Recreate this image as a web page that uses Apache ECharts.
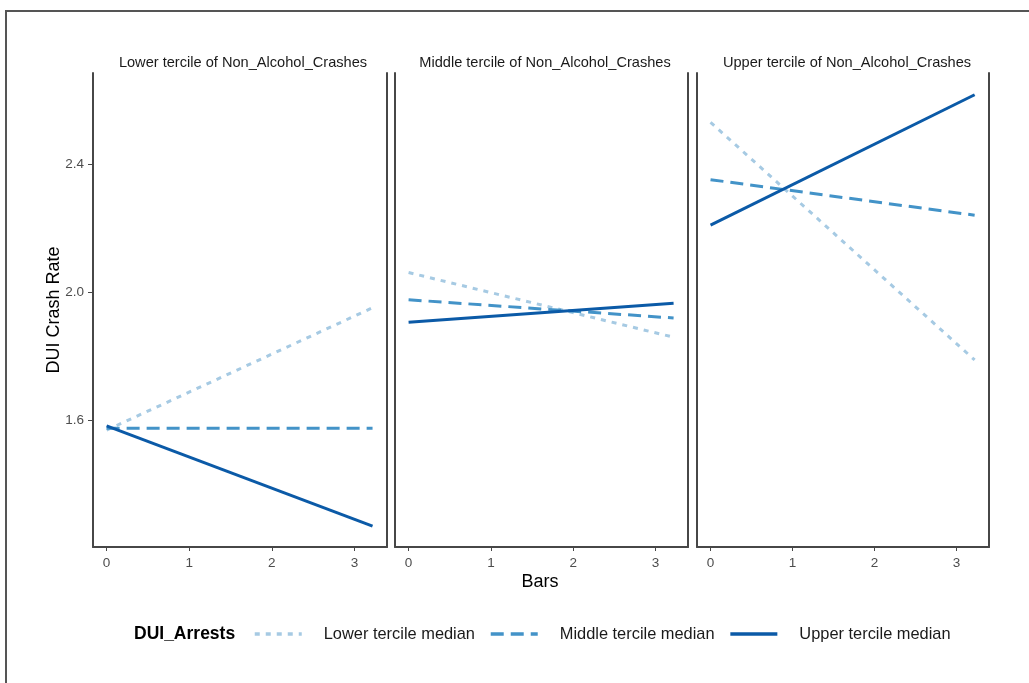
<!DOCTYPE html>
<html>
<head>
<meta charset="utf-8">
<script src="https://cdn.jsdelivr.net/npm/echarts@6/dist/echarts.min.js"></script>
<style>
  html, body { margin: 0; padding: 0; background: #fff; }
  #chart { width: 1029px; height: 683px; }
</style>
</head>
<body>
<div id="chart"></div>
<script>
// facets and groups
const panels = ['Lower tercile of Non_Alcohol_Crashes', 'Middle tercile of Non_Alcohol_Crashes', 'Upper tercile of Non_Alcohol_Crashes']
const groups = ['Lower tercile median', 'Middle tercile median', 'Upper tercile median']

// x (Bars) at the two ends of each fitted line
const barsEnds = [0, 3.22]

// DUI Crash Rate at Bars = 0 and Bars = 3.22, per panel
const lowerPanel = { lower: [1.570, 1.952], middle: [1.576, 1.576], upper: [1.583, 1.270] }
const middlePanel = { lower: [2.062, 1.860], middle: [1.977, 1.920], upper: [1.907, 1.966] }
const upperPanel = { lower: [2.531, 1.789], middle: [2.352, 2.241], upper: [2.210, 2.617] }

const xTicks = [0, 1, 2, 3]
const yTicks = [1.6, 2.0, 2.4]

const panelData = [lowerPanel, middlePanel, upperPanel]
const groupKeys = ['lower', 'middle', 'upper']
const colors = ['#a6cae3', '#4393c8', '#0b5aa7']
const dashes = [[5, 6], [13, 7], 'solid']

const font = 'Liberation Sans, Arial, sans-serif'
const axisColor = '#474747'

// panel boxes
const boxes = [
  { left: 93, width: 294 },
  { left: 395, width: 293 },
  { left: 697, width: 292 }
]
const titleCenters = [238, 540, 842]

const chart = echarts.init(document.getElementById('chart'))

const grid = boxes.map(b => ({ left: b.left, width: b.width, top: 73, height: 474 }))

const xAxis = boxes.map((b, i) => ({
  type: 'value',
  gridIndex: i,
  min: -0.165,
  max: 3.395,
  splitLine: { show: false },
  axisLine: { show: true, onZero: false, lineStyle: { color: axisColor, width: 2 } },
  axisTick: { show: true, length: 4, customValues: xTicks, lineStyle: { color: axisColor, width: 1 } },
  axisLabel: { customValues: xTicks, color: '#4d4d4d', fontSize: 13.5, fontFamily: font, margin: 9 }
}))

const yAxis = []
boxes.forEach((b, i) => {
  yAxis.push({
    type: 'value',
    gridIndex: i,
    position: 'left',
    min: 1.205,
    max: 2.685,
    splitLine: { show: false },
    axisLine: { show: true, onZero: false, lineStyle: { color: axisColor, width: 2 } },
    axisTick: { show: i === 0, length: 5, customValues: yTicks, lineStyle: { color: axisColor, width: 1 } },
    axisLabel: {
      show: i === 0,
      customValues: yTicks,
      formatter: v => v.toFixed(1),
      color: '#4d4d4d',
      fontSize: 13.5,
      fontFamily: font,
      margin: 9
    }
  })
  yAxis.push({
    type: 'value',
    gridIndex: i,
    position: 'right',
    min: 1.205,
    max: 2.685,
    splitLine: { show: false },
    axisLine: { show: true, onZero: false, lineStyle: { color: axisColor, width: 2 } },
    axisTick: { show: false },
    axisLabel: { show: false }
  })
})

const series = []
panelData.forEach((p, i) => {
  groupKeys.forEach((k, g) => {
    series.push({
      name: groups[g],
      type: 'line',
      xAxisIndex: i,
      yAxisIndex: i * 2,
      symbol: 'none',
      silent: true,
      z: 3 + g,
      color: colors[g],
      lineStyle: { color: colors[g], width: 3, type: dashes[g], cap: 'butt' },
      data: barsEnds.map((x, j) => [x, p[k][j]])
    })
  })
})

const title = panels.map((t, i) => ({
  text: t,
  left: titleCenters[i],
  top: 50,
  textAlign: 'center',
  textStyle: { fontSize: 14.6, fontWeight: 'normal', color: '#1a1a1a', fontFamily: font }
}))

chart.setOption({
  animation: false,
  backgroundColor: '#fff',
  title,
  grid,
  xAxis,
  yAxis,
  series,
  legend: {
    data: groups,
    left: 253,
    top: 626,
    padding: 0,
    itemWidth: 47,
    itemHeight: 16,
    itemGap: 14,
    itemStyle: { opacity: 0 },
    lineStyle: { width: 3.5 },
    textStyle: { fontSize: 16.4, color: '#1a1a1a', fontFamily: font, padding: [0, 0, 0, 17] }
  },
  graphic: [
    {
      type: 'rect',
      shape: { x: 6, y: 11, width: 1100, height: 800 },
      style: { fill: 'none', stroke: '#555', lineWidth: 2 },
      silent: true
    },
    {
      type: 'text',
      x: 540,
      y: 582,
      style: { text: 'Bars', fontSize: 18, fontFamily: font, fill: '#000', align: 'center', verticalAlign: 'middle' }
    },
    {
      type: 'text',
      x: 54,
      y: 310,
      rotation: Math.PI / 2,
      style: { text: 'DUI Crash Rate', fontSize: 18, fontFamily: font, fill: '#000', align: 'center', verticalAlign: 'middle' }
    },
    {
      type: 'text',
      x: 134,
      y: 634,
      style: { text: 'DUI_Arrests', fontSize: 17.5, fontWeight: 'bold', fontFamily: font, fill: '#000', align: 'left', verticalAlign: 'middle' }
    }
  ]
})
</script>
</body>
</html>
